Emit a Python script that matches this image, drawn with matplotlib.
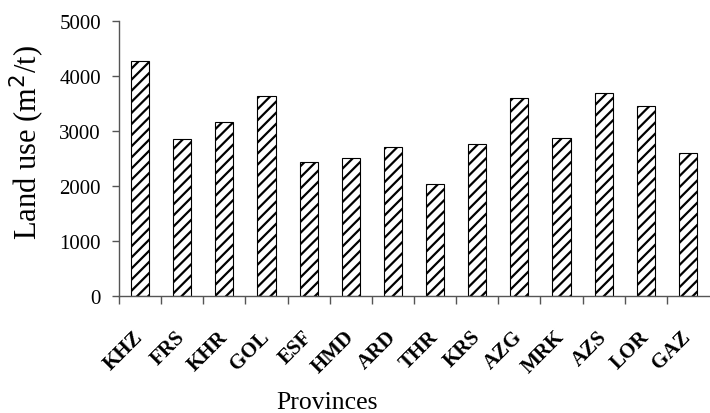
import numpy as np
import matplotlib
matplotlib.use("Agg")
import matplotlib.pyplot as plt
from matplotlib.ticker import FixedLocator

# land use per province
provinces = ["KHZ", "FRS", "KHR", "GOL", "ESF", "HMD", "ARD",
             "THR", "KRS", "AZG", "MRK", "AZS", "LOR", "GAZ"]
land_use = [4270, 2860, 3160, 3640, 2430, 2515, 2715,
            2030, 2770, 3600, 2880, 3685, 3455, 2600]
y_ticks = [0, 1000, 2000, 3000, 4000, 5000]

plt.rcParams['font.family'] = ['Liberation Serif', 'DejaVu Serif']
plt.rcParams['hatch.linewidth'] = 1.6

fig = plt.figure(figsize=(7.1, 4.14), dpi=100)
ax = fig.add_axes([0.1676, 0.2826, 0.831, 0.6643])

x = np.arange(len(provinces))
ax.bar(x, land_use, width=0.43, color='white', edgecolor='black',
       hatch='///', linewidth=0.8)

ax.set_xlim(-0.5, len(provinces) - 0.5)
ax.set_ylim(0, 5000)
ax.set_yticks(y_ticks)
ax.set_yticklabels([str(v) for v in y_ticks], fontsize=15)

# ticks between the categories, labels under the bars
ax.set_xticks(x)
ax.set_xticklabels(provinces, rotation=45, ha='right', va='center',
                   rotation_mode='anchor', fontsize=15, fontweight='bold')
ax.xaxis.set_minor_locator(FixedLocator(np.arange(len(provinces)) - 0.5))
ax.tick_params(axis='x', which='major', length=0, pad=27)
ax.tick_params(axis='x', which='minor', length=6, width=1, color='#555555', direction='out')
ax.tick_params(axis='y', length=5, width=1, color='#555555', pad=8)

for s in ['top', 'right']:
    ax.spines[s].set_visible(False)
for s in ['left', 'bottom']:
    ax.spines[s].set_color('#555555')
    ax.spines[s].set_linewidth(1)

ax.set_ylabel("Land use (m$^2$/t)", fontsize=22)
ax.yaxis.set_label_coords(-0.122, 0.56)
ax.set_xlabel("Provinces", fontsize=18.5)
ax.xaxis.set_label_coords(0.353, -0.345)

fig.savefig("out.png", dpi=100)
